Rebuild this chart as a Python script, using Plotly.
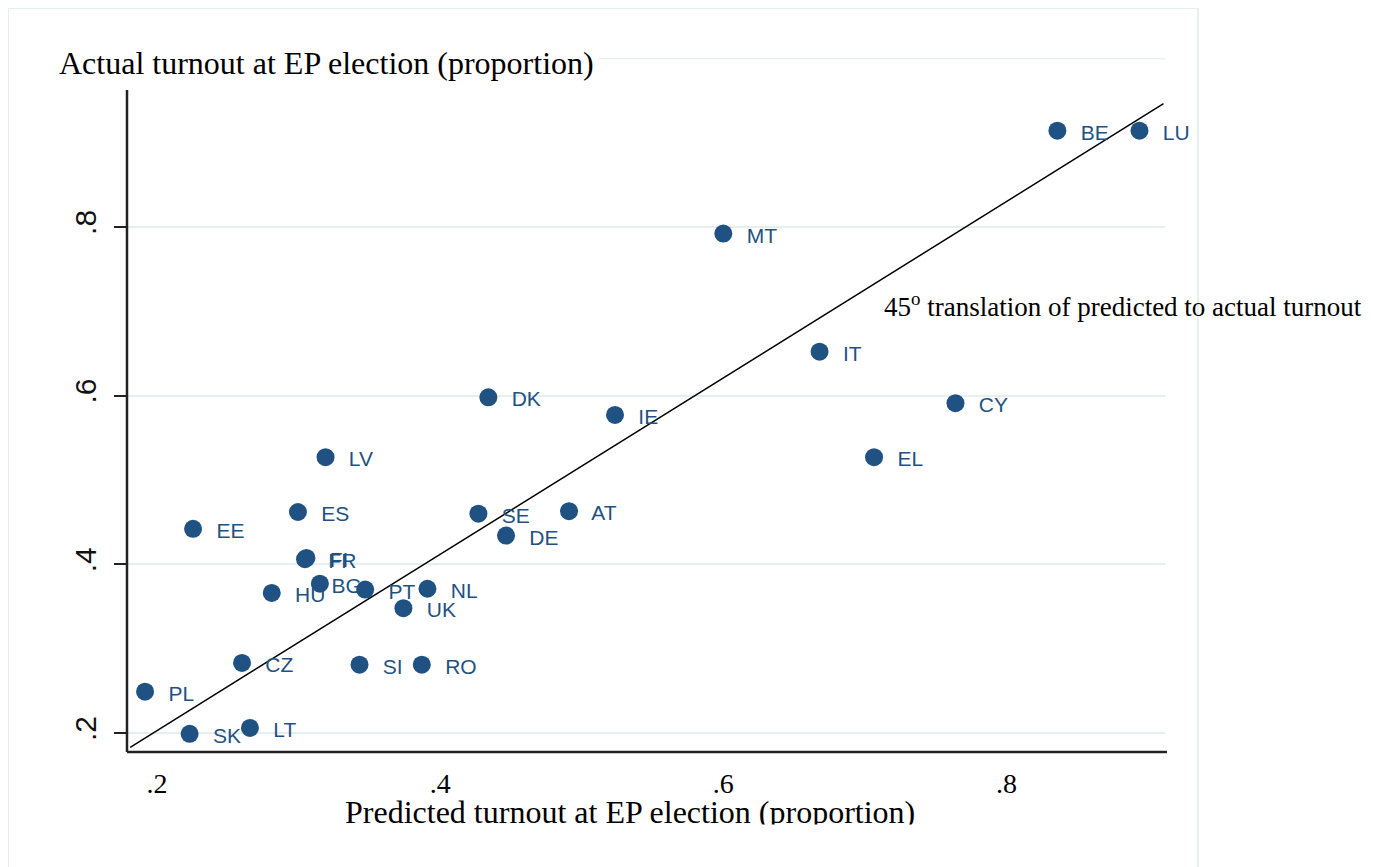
import plotly.graph_objects as go

# ---- data ----
countries = ["BE", "LU", "MT", "IT", "CY", "EL", "DK", "IE", "LV", "ES", "EE",
             "FI", "FR", "BG", "HU", "PT", "NL", "UK", "SE", "DE", "AT",
             "CZ", "SI", "RO", "PL", "SK", "LT"]
predicted = [0.836, 0.894, 0.600, 0.668, 0.764, 0.7065, 0.434, 0.5235, 0.319, 0.2995, 0.2254,
             0.3055, 0.3045, 0.315, 0.281, 0.347, 0.391, 0.374, 0.427, 0.4465, 0.491,
             0.260, 0.343, 0.387, 0.1915, 0.223, 0.2656]
actual = [0.914, 0.914, 0.792, 0.652, 0.591, 0.527, 0.598, 0.577, 0.527, 0.462, 0.442,
          0.4075, 0.4060, 0.377, 0.366, 0.370, 0.371, 0.348, 0.460, 0.434, 0.463,
          0.283, 0.281, 0.281, 0.249, 0.199, 0.206]

line_x = [0.181, 0.911]
line_y = [0.183, 0.946]

x_ticks = [0.2, 0.4, 0.6, 0.8]
x_tick_labels = [".2", ".4", ".6", ".8"]
y_ticks = [0.2, 0.4, 0.6, 0.8]
y_tick_labels = [".2", ".4", ".6", ".8"]
top_grid = 1.0

NAVY = "#1f5283"
GRID = "#e6eef0"
SANS = "Liberation Sans, Arial, sans-serif"
SERIF = "Liberation Serif, Times New Roman, serif"

Y_RANGE = [0.17747, 1.0002]
LABEL_DROP = 0.0045  # labels sit a few pixels below their marker (Stata position 3)

# label gap (spaces) – BG's label sits closer to its marker in the reference
label_text = [("  " if c == "BG" else "    ") + c for c in countries]

fig = go.Figure()

# labels (drawn first so markers overlap them as in the reference)
fig.add_trace(go.Scatter(
    x=predicted, y=actual, mode="text", yaxis="y2",
    text=label_text,
    textposition="middle right",
    textfont=dict(family=SANS, size=21, color=NAVY),
    hoverinfo="skip", showlegend=False, cliponaxis=False,
))
# markers
fig.add_trace(go.Scatter(
    x=predicted, y=actual, mode="markers",
    marker=dict(size=18, color=NAVY, line=dict(width=0)),
    text=countries, showlegend=False, cliponaxis=False,
))
# 45 degree line
fig.add_trace(go.Scatter(
    x=line_x, y=line_y, mode="lines",
    line=dict(color="black", width=1.5),
    hoverinfo="skip", showlegend=False, cliponaxis=False,
))

# page body has an 8px default margin, so the figure is shifted up/left by 8px
fig.update_layout(
    width=1374, height=867,
    margin=dict(l=119, r=217, t=50, b=123),
    paper_bgcolor="white", plot_bgcolor="white",
    showlegend=False,
    xaxis=dict(
        range=[0.17874, 0.91203],
        tickvals=x_ticks, ticktext=x_tick_labels,
        showgrid=False, zeroline=False, showline=False,
        ticks="", ticklabelstandoff=12,
        tickfont=dict(family=SERIF, size=28, color="black"),
    ),
    yaxis=dict(
        range=Y_RANGE,
        tickvals=y_ticks, ticktext=y_tick_labels,
        showgrid=True, gridcolor=GRID, gridwidth=2,
        zeroline=False, showline=False,
        ticks="outside", ticklen=12, tickwidth=2, tickcolor="#222222",
        tickangle=-90, ticklabelstandoff=6,
        tickfont=dict(family=SANS, size=30, color="#111111"),
    ),
    yaxis2=dict(
        overlaying="y", visible=False,
        range=[Y_RANGE[0] + LABEL_DROP, Y_RANGE[1] + LABEL_DROP],
    ),
)

def px_x(p):
    return (p - 127) / 1038.0

def px_y(p):
    return (752 - p) / 694.0

shapes = [
    # outer light frame
    dict(type="line", xref="paper", yref="paper", x0=px_x(8), x1=px_x(1198), y0=px_y(8), y1=px_y(8),
         line=dict(color=GRID, width=2)),
    dict(type="line", xref="paper", yref="paper", x0=px_x(8), x1=px_x(8), y0=px_y(8), y1=px_y(880),
         line=dict(color=GRID, width=2)),
    dict(type="line", xref="paper", yref="paper", x0=px_x(1198), x1=px_x(1198), y0=px_y(8), y1=px_y(880),
         line=dict(color=GRID, width=2), layer="below"),
    # gridline at 1.0
    dict(type="line", xref="paper", yref="y", x0=0, x1=1, y0=top_grid, y1=top_grid,
         line=dict(color=GRID, width=2), layer="below"),
    # axis lines
    dict(type="line", xref="paper", yref="paper", x0=0, x1=0, y0=0, y1=px_y(90),
         line=dict(color="#222222", width=2.5)),
    dict(type="line", xref="paper", yref="paper", x0=0, x1=px_x(1167), y0=0, y1=0,
         line=dict(color="#222222", width=2.5)),
]
fig.update_layout(shapes=shapes)

annotations = [
    dict(text="Actual turnout at EP election (proportion)", xref="paper", yref="paper",
         x=px_x(54), y=px_y(63), xanchor="left", yanchor="middle", showarrow=False,
         font=dict(family=SERIF, size=32, color="black"), bgcolor="white", borderpad=4),
    dict(text="Predicted turnout at EP election (proportion)", xref="paper", yref="paper",
         x=px_x(630), y=px_y(812), xanchor="center", yanchor="middle", showarrow=False,
         font=dict(family=SERIF, size=32, color="black")),
    # clip bottom of x title as in reference
    dict(text=".", xref="paper", yref="paper", x=px_x(630), y=px_y(840), xanchor="center",
         yanchor="middle", showarrow=False, width=680, height=30, bgcolor="white", borderpad=0,
         font=dict(size=4, color="white")),
    dict(text="45<sup>o</sup> translation of predicted to actual turnout", xref="paper", yref="paper",
         x=px_x(882), y=px_y(305), xanchor="left", yanchor="middle", showarrow=False,
         font=dict(family=SERIF, size=27, color="black")),
]
fig.update_layout(annotations=annotations)

fig.write_html("out.html")
